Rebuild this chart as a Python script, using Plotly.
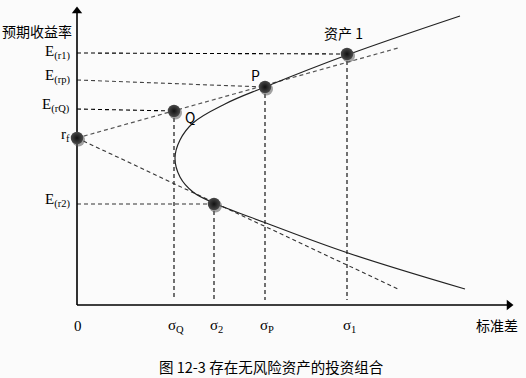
import plotly.graph_objects as go

# ---- data (units: sigma and expected return) ----
rf = 16.7
sigma_Q, E_Q = 9.7, 19.4
sigma_P, E_P = 18.8, 21.8
sigma_1, E_1 = 27.0, 25.1
sigma_2, E_2 = 13.7, 10.1

# guide levels on the y axis
E_r1_level = 25.2
E_rp_level = 22.5
E_rQ_level = 19.6
E_r2_level = 10.1

# efficient frontier (hand drawn hyperbola)
frontier_sigma = [38.3, 27.0, 18.8, 14.8, 11.6, 10.3, 9.8, 10.3, 11.6, 13.7, 18.9, 27.1, 38.8]
frontier_E = [28.9, 25.0, 21.8, 20.1, 18.2, 16.5, 14.7, 12.8, 11.3, 10.2, 8.2, 5.2, 1.6]

# dashed lines from rf
upper_line_sigma = [0, 32.1]
upper_line_E = [rf, 25.7]
lower_line_sigma = [0, 32.1]
lower_line_E = [rf, 1.6]

axis_y_top = 29.8
axis_x_right = 43.6
guide_bottom = 0.5

y_labels = ["E<sub>(r1)</sub>", "E<sub>(rp)</sub>", "E<sub>(rQ)</sub>", "r<sub>f</sub>", "E<sub>(r2)</sub>"]
y_label_vals = [E_r1_level, E_rp_level, E_rQ_level, rf, E_r2_level]
y_label_shift = [0.1, 0.35, 0.35, 0.35, 0.35]
x_labels = ["0", "σ<sub>Q</sub>", "σ<sub>2</sub>", "σ<sub>P</sub>", "σ<sub>1</sub>"]
x_label_vals = [0, sigma_Q, sigma_2, sigma_P, sigma_1]

fig = go.Figure()

def line(xs, ys, color="#000", width=1.1, dash="4px,3px"):
    fig.add_trace(go.Scatter(x=xs, y=ys, mode="lines",
                             line=dict(color=color, width=width, dash=dash),
                             hoverinfo="skip", showlegend=False))

# horizontal guides
line([0, sigma_1], [E_r1_level, E_1])
line([0, sigma_P], [E_rp_level, E_P], color="#444")
line([0, sigma_Q], [E_rQ_level, E_Q])
line([0, sigma_2], [E_r2_level, E_2], color="#333")
# vertical guides
for s, e in [(sigma_Q, E_Q), (sigma_2, E_2), (sigma_P, E_P), (sigma_1, E_1)]:
    line([s, s], [e, guide_bottom])
# dashed lines from rf
line(upper_line_sigma, upper_line_E, color="#555", width=1.2)
line(lower_line_sigma, lower_line_E, color="#333", width=1.1)

# frontier
fig.add_trace(go.Scatter(x=frontier_sigma, y=frontier_E, mode="lines",
                         line=dict(color="#222", width=1.2, shape="spline", smoothing=1.1),
                         hoverinfo="skip", showlegend=False))

# axes
line([0, 0], [0, axis_y_top - 0.5], width=1.6, dash="solid")
line([0, axis_x_right - 0.5], [0, 0], width=1.6, dash="solid")
fig.add_trace(go.Scatter(x=[0], y=[axis_y_top - 0.4], mode="markers",
                         marker=dict(symbol="triangle-up", size=9, color="#000"),
                         hoverinfo="skip", showlegend=False))
fig.add_trace(go.Scatter(x=[axis_x_right - 0.4], y=[0], mode="markers",
                         marker=dict(symbol="triangle-right", size=9, color="#000"),
                         hoverinfo="skip", showlegend=False))

# points
pts_s = [0, sigma_Q, sigma_P, sigma_1, sigma_2]
pts_e = [rf, E_Q, E_P, E_1, E_2]
fig.add_trace(go.Scatter(x=[s + 0.15 for s in pts_s], y=[e - 0.2 for e in pts_e], mode="markers",
                         marker=dict(size=13, color="rgba(90,90,90,0.55)"),
                         hoverinfo="skip", showlegend=False))
fig.add_trace(go.Scatter(x=pts_s, y=pts_e, mode="markers",
                         marker=dict(size=12.5, color="#4a4a4a",
                                     gradient=dict(type="radial", color="#111111"),
                                     line=dict(width=0)),
                         hoverinfo="skip", showlegend=False))

serif = "Liberation Serif, Times New Roman, serif"
cjk = "Noto Sans CJK SC, sans-serif"

ann = []
for t, v, d in zip(y_labels, y_label_vals, y_label_shift):
    ann.append(dict(x=-0.5, y=v + d, text=t, showarrow=False, xanchor="right", yanchor="middle",
                    font=dict(family=serif, size=15, color="#000")))
for t, v in zip(x_labels, x_label_vals):
    ann.append(dict(x=v + (0.2 if v else 0.1), y=-2.1, text=t, showarrow=False, xanchor="center",
                    yanchor="middle", font=dict(family=serif, size=15, color="#000")))
ann += [
    dict(x=-4.0, y=27.4, text="预期收益率", showarrow=False, font=dict(family=cjk, size=14, color="#000")),
    dict(x=42.0, y=-2.0, text="标准差", showarrow=False, font=dict(family=cjk, size=14, color="#000")),
    dict(x=26.6, y=27.2, text="资产 1", showarrow=False, font=dict(family=cjk, size=14, color="#000")),
    dict(x=17.8, y=23.0, text="P", showarrow=False, font=dict(family=cjk, size=14, color="#000")),
    dict(x=11.3, y=18.8, text="Q", showarrow=False, font=dict(family=cjk, size=14, color="#000")),
    dict(x=19.4, y=-6.1, text="图 12-3 存在无风险资产的投资组合", showarrow=False,
         font=dict(family=cjk, size=14.5, color="#000")),
]

fig.update_layout(
    width=526, height=378, autosize=False,
    margin=dict(l=0, r=0, t=0, b=0),
    paper_bgcolor="#fbfbfb", plot_bgcolor="#fbfbfb",
    xaxis=dict(range=[-7.7, 44.9], visible=False, fixedrange=True),
    yaxis=dict(range=[-7.3, 30.5], visible=False, fixedrange=True),
    annotations=ann,
    showlegend=False,
)
fig.write_html("out.html", config=dict(displayModeBar=False),
               post_script="document.body.style.margin='0';document.body.style.overflow='hidden';")
